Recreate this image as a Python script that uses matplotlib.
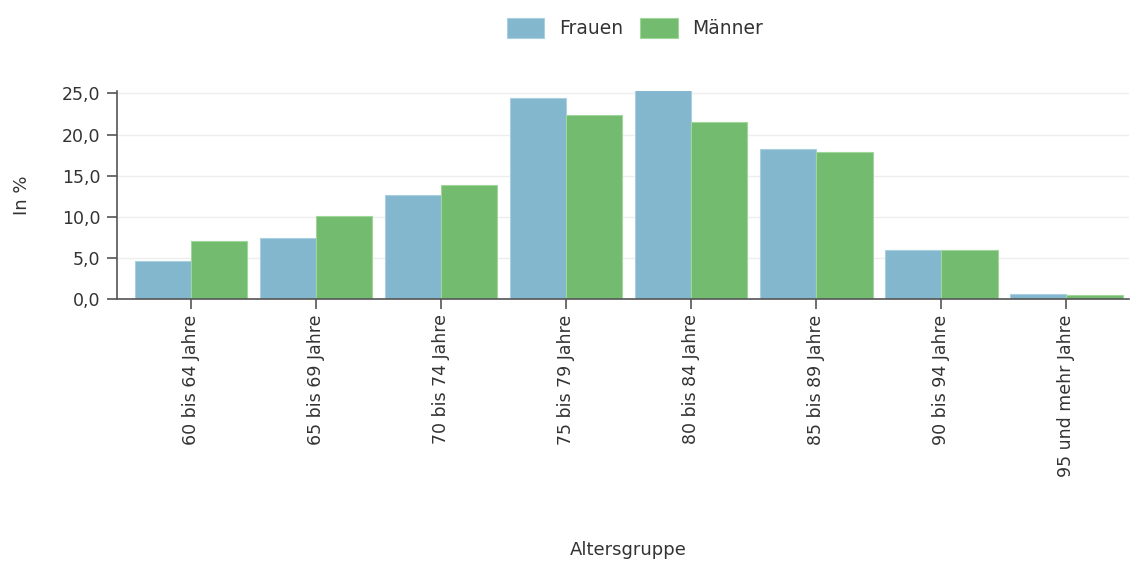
import matplotlib
matplotlib.use("Agg")
import matplotlib.pyplot as plt
import numpy as np
from matplotlib.ticker import FuncFormatter

categories = ["60 bis 64 Jahre", "65 bis 69 Jahre", "70 bis 74 Jahre", "75 bis 79 Jahre",
              "80 bis 84 Jahre", "85 bis 89 Jahre", "90 bis 94 Jahre", "95 und mehr Jahre"]
frauen = [4.6, 7.4, 12.6, 24.4, 25.4, 18.3, 6.0, 0.6]
maenner = [7.1, 10.1, 13.9, 22.4, 21.5, 17.9, 5.9, 0.5]
series_names = ["Frauen", "Männer"]
yticks = [0, 5, 10, 15, 20, 25]

plt.rcParams['font.family'] = ['DejaVu Sans']
txt = '#333333'
fig = plt.figure(figsize=(11.32, 5.63), dpi=100)
ax = fig.add_axes([117/1132, 264/563, (1129-117)/1132, (299-91)/563])

x = np.arange(len(categories))
w = 0.45
c1, c2 = '#83b7ce', '#73bb6e'
ax.bar(x - w/2, frauen, w, color=c1, edgecolor='#a9cfe0', linewidth=0.8, label=series_names[0], zorder=3)
ax.bar(x + w/2, maenner, w, color=c2, edgecolor='#9fd69b', linewidth=0.8, label=series_names[1], zorder=3)

ax.set_xlim(-0.59, 7.5)
ax.set_ylim(0, 25.3)
ax.set_yticks(yticks)
ax.yaxis.set_major_formatter(FuncFormatter(lambda v, p: f"{v:.1f}".replace('.', ',')))
ax.set_xticks(x)
ax.set_xticklabels(categories, rotation=90, fontsize=12.5, color=txt)
ax.tick_params(axis='y', labelsize=12.5, labelcolor=txt, color='#555555', length=7, width=1.2, pad=5)
ax.tick_params(axis='x', color='#555555', length=7, width=1.2, pad=4)
ax.grid(axis='y', color='#eeeeee', linewidth=1, zorder=0)
for s in ['top', 'right']:
    ax.spines[s].set_visible(False)
for s in ['left', 'bottom']:
    ax.spines[s].set_color('#555555')
    ax.spines[s].set_linewidth(1.2)
    ax.spines[s].set_zorder(4)

ax.set_ylabel("In %", fontsize=13, color=txt)
ax.yaxis.set_label_coords(-0.085, 0.5)
fig.text(628/1132, 1 - 550/563, "Altersgruppe", ha='center', va='center', fontsize=13, color=txt)

leg = fig.legend(loc='center', bbox_to_anchor=(635/1132, 1 - 28/563), ncol=2, frameon=False,
                 fontsize=13.5, handlelength=2.0, handleheight=1.3, columnspacing=0.9, handletextpad=0.8)
for t in leg.get_texts():
    t.set_color(txt)

fig.savefig("out.png", dpi=100, facecolor='white')
